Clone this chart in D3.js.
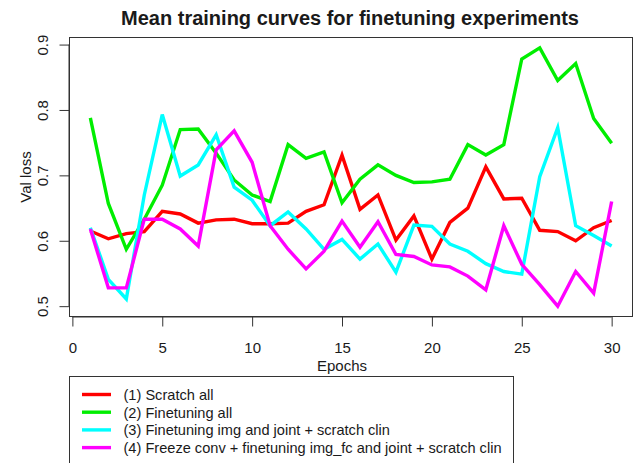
<!DOCTYPE html>
<html>
<head>
<meta charset="utf-8">
<script src="https://cdn.jsdelivr.net/npm/d3@7"></script>
<style>
  html, body { margin: 0; padding: 0; background: #fff; }
  svg { display: block; font-family: "Liberation Sans", Arial, Helvetica, sans-serif; }
</style>
</head>
<body>
<svg id="chart" width="635" height="463"></svg>
<script>
// Mean validation loss per epoch for the four finetuning set-ups
const epochs = d3.range(1, 31);

const scratchAll = [0.615, 0.603, 0.611, 0.614, 0.645, 0.641, 0.627, 0.632, 0.633, 0.626,
                    0.626, 0.627, 0.645, 0.655, 0.731, 0.648, 0.670, 0.601, 0.638, 0.572,
                    0.628, 0.650, 0.713, 0.664, 0.665, 0.616, 0.614, 0.600, 0.620, 0.631];

const finetuneAll = [0.788, 0.657, 0.587, 0.633, 0.685, 0.770, 0.771, 0.734, 0.693, 0.670,
                     0.660, 0.747, 0.726, 0.736, 0.658, 0.694, 0.716, 0.700, 0.689, 0.690,
                     0.694, 0.747, 0.731, 0.747, 0.878, 0.895, 0.845, 0.871, 0.787, 0.749];

const finetuneImgJoint = [0.620, 0.541, 0.511, 0.670, 0.793, 0.699, 0.716, 0.762, 0.682, 0.662,
                          0.623, 0.644, 0.618, 0.587, 0.602, 0.572, 0.595, 0.552, 0.624, 0.622,
                          0.595, 0.584, 0.565, 0.553, 0.549, 0.698, 0.773, 0.623, 0.608, 0.592];

const freezeConv = [0.618, 0.528, 0.528, 0.633, 0.633, 0.618, 0.592, 0.739, 0.768, 0.720,
                    0.623, 0.587, 0.557, 0.584, 0.630, 0.590, 0.629, 0.579, 0.576, 0.563,
                    0.560, 0.546, 0.525, 0.623, 0.564, 0.533, 0.500, 0.553, 0.520, 0.660];

const seriesNames = [
  "(1) Scratch all",
  "(2) Finetuning all",
  "(3) Finetuning img and joint + scratch clin",
  "(4) Freeze conv + finetuning img_fc and joint + scratch clin"
];
const seriesColors = ["#ff0000", "#00ee00", "#00ffff", "#ff00ff"];
const seriesValues = [scratchAll, finetuneAll, finetuneImgJoint, freezeConv];

const xTicks = [0, 5, 10, 15, 20, 25, 30];
const yTicks = [0.5, 0.6, 0.7, 0.8, 0.9];

const svg = d3.select("#chart");

// plot region with the usual 4% padding around the data range
const box = { left: 69.5, right: 632.5, top: 37.5, bottom: 316.5 };
const xMin = 1, xMax = 30;
const allVals = seriesValues.flat();
const yMin = d3.min(allVals), yMax = d3.max(allVals);
const xPad = (xMax - xMin) * 0.04, yPad = (yMax - yMin) * 0.04;

const x = d3.scaleLinear()
  .domain([xMin - xPad, xMax + xPad])
  .range([box.left, box.right]);
const y = d3.scaleLinear()
  .domain([yMin - yPad, yMax + yPad])
  .range([box.bottom, box.top]);

const axisColor = "#333";
const textColor = "#1a1a1a";

// title
svg.append("text")
  .attr("x", 350).attr("y", 25)
  .attr("text-anchor", "middle")
  .attr("font-size", 20).attr("font-weight", "bold")
  .attr("fill", textColor)
  .text("Mean training curves for finetuning experiments");

// frame
svg.append("rect")
  .attr("x", box.left).attr("y", box.top)
  .attr("width", box.right - box.left).attr("height", box.bottom - box.top)
  .attr("fill", "none").attr("stroke", axisColor).attr("stroke-width", 1);

// x axis below the frame
const xAxis = d3.axisBottom(x).tickValues(xTicks).tickSize(10).tickPadding(16)
  .tickFormat(d3.format("d"));
const gx = svg.append("g").attr("transform", `translate(0,${box.bottom})`).call(xAxis);
gx.select(".domain").attr("d", `M${x(0)},0.5H${x(30)}`).attr("stroke", axisColor);
gx.selectAll(".tick line").attr("stroke", axisColor);
gx.selectAll(".tick text").attr("font-size", 15).attr("fill", textColor)
  .attr("font-family", "Liberation Sans, Arial, sans-serif");

// y axis with rotated labels
const yAxis = d3.axisLeft(y).tickValues(yTicks).tickSize(10).tickFormat(d3.format(".1f"));
const gy = svg.append("g").attr("transform", `translate(${box.left},0)`).call(yAxis);
gy.select(".domain").attr("d", `M-0.5,${y(0.5)}V${y(0.9)}`).attr("stroke", axisColor);
gy.selectAll(".tick line").attr("stroke", axisColor);
gy.selectAll(".tick text")
  .attr("font-size", 15).attr("fill", textColor)
  .attr("font-family", "Liberation Sans, Arial, sans-serif")
  .attr("x", null).attr("dy", null)
  .attr("text-anchor", "middle")
  .attr("transform", "translate(-22,0) rotate(-90)");

// axis titles
svg.append("text")
  .attr("x", (x(0) + x(30)) / 2).attr("y", 370.5)
  .attr("text-anchor", "middle").attr("font-size", 15).attr("fill", textColor)
  .text("Epochs");
svg.append("text")
  .attr("transform", `translate(31,${(box.top + box.bottom) / 2}) rotate(-90)`)
  .attr("text-anchor", "middle").attr("font-size", 15).attr("fill", textColor)
  .text("Val loss");

// curves
const line = d3.line().x((d, i) => x(epochs[i])).y(d => y(d));
svg.append("g")
  .selectAll("path")
  .data(seriesValues)
  .join("path")
  .attr("d", line)
  .attr("fill", "none")
  .attr("stroke", (d, i) => seriesColors[i])
  .attr("stroke-width", 3.4)
  .attr("stroke-linejoin", "miter")
  .attr("stroke-linecap", "butt");

// legend
const legend = svg.append("g");
legend.append("rect")
  .attr("x", 69.5).attr("y", 376.5)
  .attr("width", 444).attr("height", 100)
  .attr("fill", "#fff").attr("stroke", axisColor).attr("stroke-width", 1);
const rowY = i => 394.5 + i * 17.7;
const items = legend.selectAll("g.item")
  .data(seriesNames)
  .join("g").attr("class", "item");
items.append("line")
  .attr("x1", 82).attr("x2", 111)
  .attr("y1", (d, i) => rowY(i)).attr("y2", (d, i) => rowY(i))
  .attr("stroke", (d, i) => seriesColors[i]).attr("stroke-width", 3.4);
items.append("text")
  .attr("x", 123.5).attr("y", (d, i) => rowY(i) + 5.5)
  .attr("font-size", 14.6).attr("fill", textColor)
  .text(d => d);
</script>
</body>
</html>
